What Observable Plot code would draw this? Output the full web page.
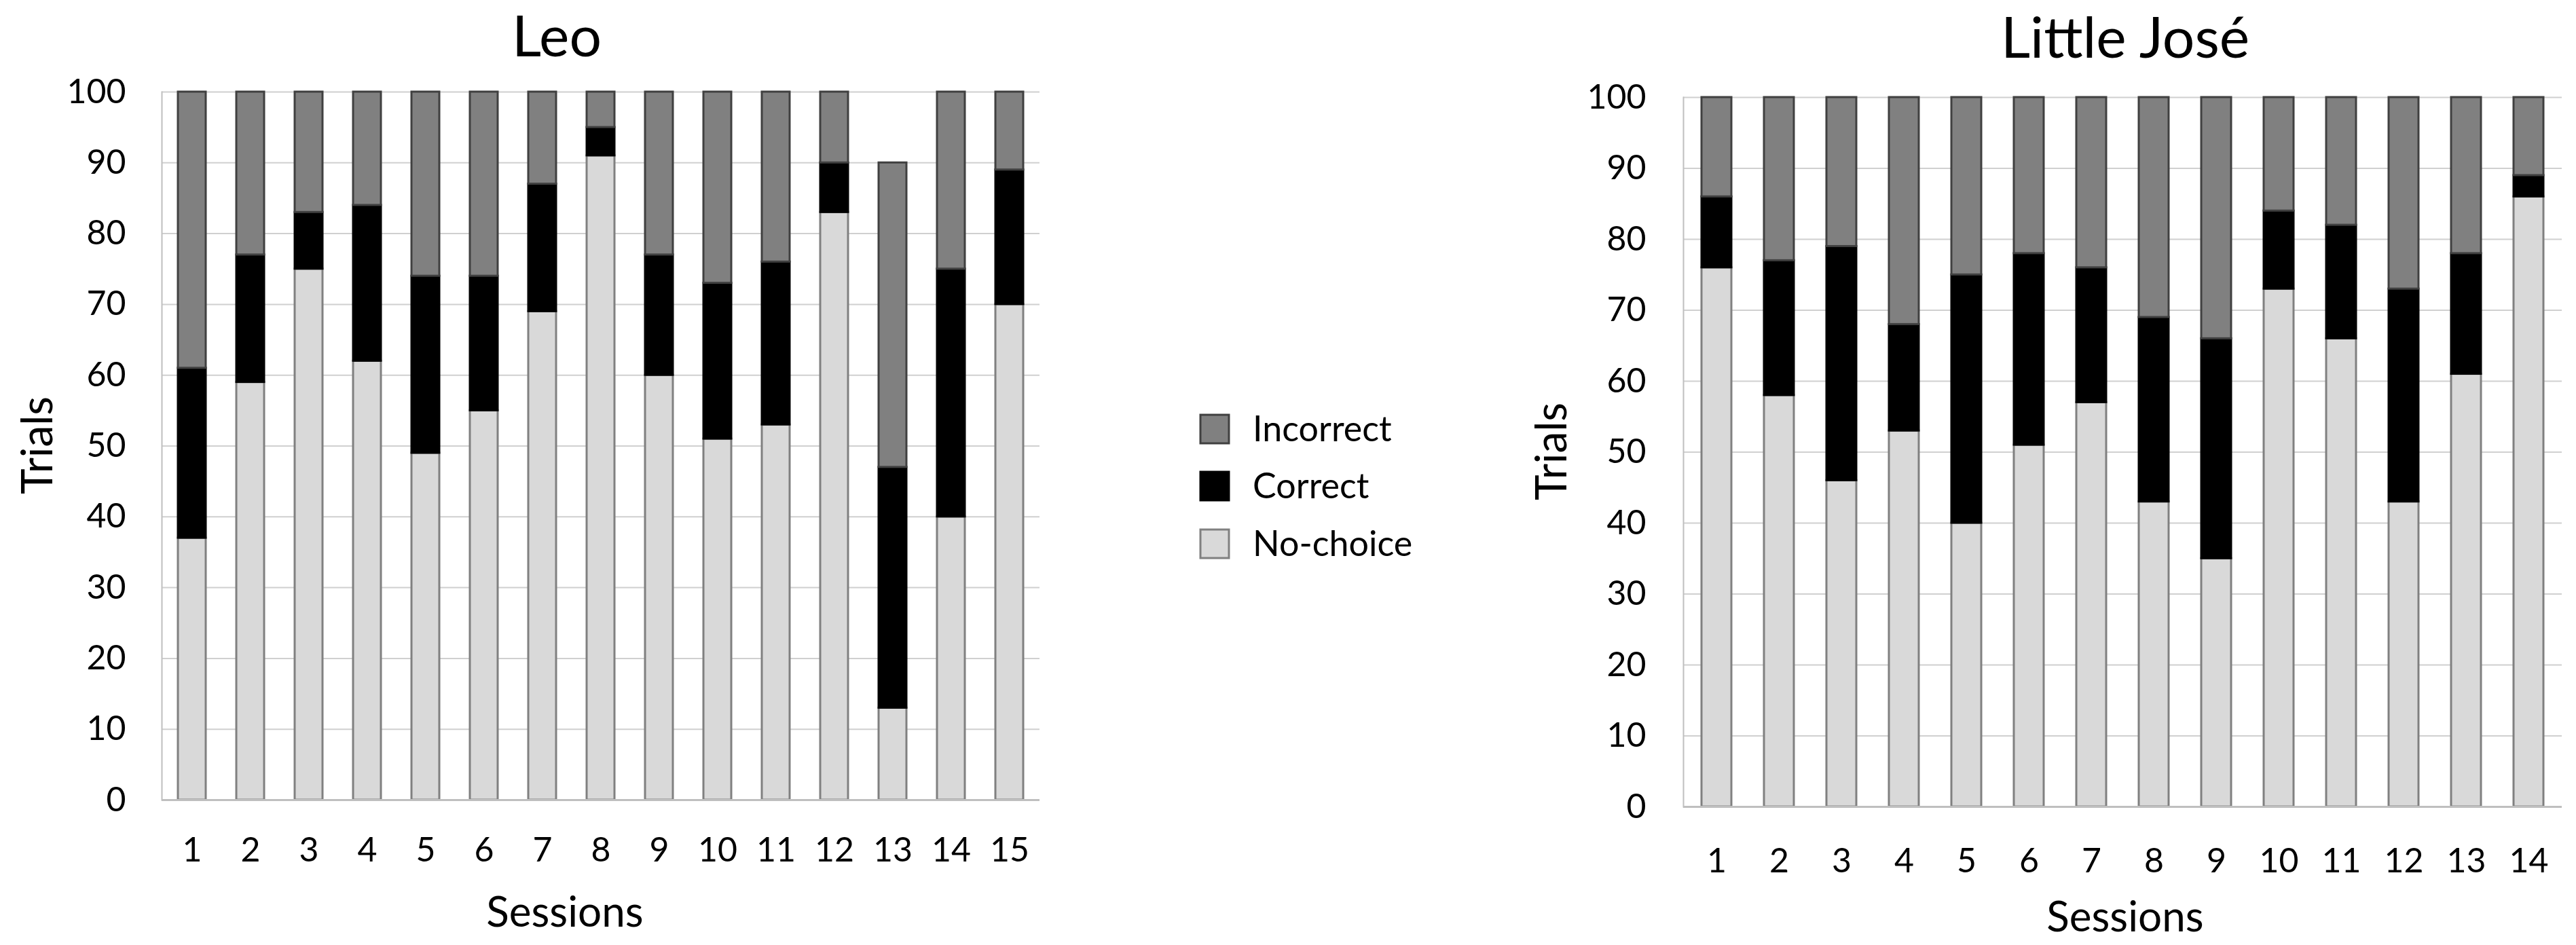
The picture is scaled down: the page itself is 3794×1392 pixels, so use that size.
<!DOCTYPE html>
<html><head><meta charset="utf-8">
<script src="https://cdn.jsdelivr.net/npm/d3@7"></script>
<script src="https://cdn.jsdelivr.net/npm/@observablehq/plot@0.6"></script>
<style>
body{margin:0;background:#fff;}
#wrap{position:relative;width:3794px;height:1392px;font-family:Lato,"Open Sans",sans-serif;color:#000;overflow:hidden;background:#fff}
#wrap > svg{position:absolute;top:0}
</style></head><body><div id="wrap"></div>
<script>
// ---- data ----
const categories = ["No-choice", "Correct", "Incorrect"];
const legendOrder = ["Incorrect", "Correct", "No-choice"];
const yTicks = [0, 10, 20, 30, 40, 50, 60, 70, 80, 90, 100];

const leoSessions = [1, 2, 3, 4, 5, 6, 7, 8, 9, 10, 11, 12, 13, 14, 15];
const leoNoChoice = [37, 59, 75, 62, 49, 55, 69, 91, 60, 51, 53, 83, 13, 40, 70];
const leoCorrect = [24, 18, 8, 22, 25, 19, 18, 4, 17, 22, 23, 7, 34, 35, 19];
const leoIncorrect = [39, 23, 17, 16, 26, 26, 13, 5, 23, 27, 24, 10, 43, 25, 11];

const joseSessions = [1, 2, 3, 4, 5, 6, 7, 8, 9, 10, 11, 12, 13, 14];
const joseNoChoice = [76, 58, 46, 53, 40, 51, 57, 43, 35, 73, 66, 43, 61, 86];
const joseCorrect = [10, 19, 33, 15, 35, 27, 19, 26, 31, 11, 16, 30, 17, 3];
const joseIncorrect = [14, 23, 21, 32, 25, 22, 24, 31, 34, 16, 18, 27, 22, 11];

// ---- styles ----
const fillOf = {"No-choice": "#d9d9d9", "Correct": "#000000", "Incorrect": "#808080"};
const strokeOf = {"No-choice": "#808080", "Correct": "#000000", "Incorrect": "#404040"};

function chart(o) {
  const rows = [];
  o.sessions.forEach((s, i) => {
    const vals = [o.noChoice[i], o.correct[i], o.incorrect[i]];
    let acc = 0;
    vals.forEach((v, j) => { rows.push({session: s, category: categories[j], y1: acc, y2: acc + v}); acc += v; });
  });
  const svg = Plot.plot({
    width: o.width, height: 1392,
    marginLeft: o.marginLeft, marginRight: o.marginRight, marginTop: o.marginTop, marginBottom: o.marginBottom,
    style: {fontFamily: "Lato, 'Open Sans', sans-serif", color: "#000", background: "transparent", overflow: "visible"},
    x: {domain: o.sessions, paddingInner: 0.52, paddingOuter: 0.26, label: null},
    y: {domain: [0, 100], label: null},
    marks: [
      Plot.ruleY(yTicks.filter(t => t > 0), {stroke: "#d0d0d0", strokeWidth: 2}),
      ...categories.map(c => Plot.barY(rows.filter(r => r.category === c), {
        x: "session", y1: "y1", y2: "y2", fill: fillOf[c], stroke: strokeOf[c], strokeWidth: 3
      })),
      Plot.ruleY([0], {stroke: "#bfbfbf", strokeWidth: 3}),
      Plot.frame({anchor: "left", stroke: "#bfbfbf", strokeWidth: 2}),
      Plot.axisY(yTicks, {tickSize: 0, tickPadding: o.padY, fontSize: 50, label: null}),
      Plot.axisX({tickSize: 0, tickPadding: o.padX, fontSize: 50, label: null})
    ]
  });
  svg.style.left = o.left + "px";
  return svg;
}

const wrap = document.getElementById("wrap");
wrap.appendChild(chart({
  sessions: leoSessions, noChoice: leoNoChoice, correct: leoCorrect, incorrect: leoIncorrect,
  left: 0, width: 1600, marginLeft: 238, marginRight: 69, marginTop: 135, marginBottom: 214, padY: 53, padX: 55
}));
wrap.appendChild(chart({
  sessions: joseSessions, noChoice: joseNoChoice, correct: joseCorrect, incorrect: joseIncorrect,
  left: 2200, width: 1594, marginLeft: 279, marginRight: 21, marginTop: 143, marginBottom: 204, padY: 55, padX: 61
}));

// ---- overlay: titles, axis labels, legend ----
const NS = "http://www.w3.org/2000/svg";
const ov = document.createElementNS(NS, "svg");
ov.setAttribute("width", 3794); ov.setAttribute("height", 1392);
ov.style.left = "0px"; ov.style.pointerEvents = "none";
ov.setAttribute("font-family", "Lato, 'Open Sans', sans-serif");
function txt(s, x, y, size, anchor, rot) {
  const t = document.createElementNS(NS, "text");
  t.textContent = s;
  t.setAttribute("x", x); t.setAttribute("y", y);
  t.setAttribute("font-size", size); t.setAttribute("text-anchor", anchor || "start");
  t.setAttribute("fill", "#000");
  if (rot) t.setAttribute("transform", `rotate(-90 ${x} ${y})`);
  ov.appendChild(t);
}
txt("Leo", 820, 83, 84, "middle");
txt("Little José", 3130, 85, 84, "middle");
txt("Sessions", 832, 1365, 62, "middle");
txt("Sessions", 3130, 1372, 62, "middle");
txt("Trials", 77, 656, 64, "middle", true);
txt("Trials", 2307, 665, 64, "middle", true);
const legY = [632, 716, 801];
legendOrder.forEach((c, i) => {
  const r = document.createElementNS(NS, "rect");
  r.setAttribute("x", 1768); r.setAttribute("y", legY[i] - 21);
  r.setAttribute("width", 42); r.setAttribute("height", 42);
  r.setAttribute("fill", fillOf[c]); r.setAttribute("stroke", strokeOf[c]); r.setAttribute("stroke-width", 3);
  ov.appendChild(r);
  txt(c, 1845, legY[i] + 18, 52, "start");
});
wrap.appendChild(ov);
</script>
</body></html>
